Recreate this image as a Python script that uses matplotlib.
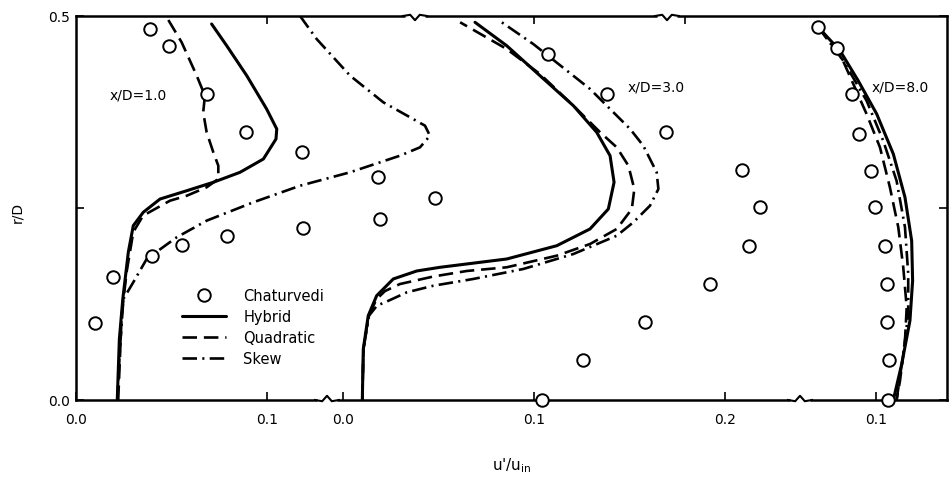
import matplotlib
matplotlib.use("Agg")
import matplotlib.pyplot as plt

plt.rcParams['font.family'] = ['DejaVu Sans']

# ---------------- data ----------------
# x/D = 1.0  (panel 1)
p1_exp_u = [0.0387, 0.0487, 0.0687, 0.089, 0.1185, 0.158, 0.188, 0.159, 0.119, 0.0792, 0.0553, 0.040, 0.0195, 0.0101]
p1_exp_r = [0.483, 0.461, 0.399, 0.349, 0.3225, 0.290, 0.2626, 0.2357, 0.2235, 0.213, 0.2018, 0.187, 0.160, 0.0999]
p1_hyb_u = [0.0216, 0.0227, 0.0245, 0.0274, 0.030, 0.0352, 0.044, 0.058, 0.0719, 0.0859, 0.0981, 0.1047, 0.1051, 0.0998, 0.0894, 0.0789, 0.0710]
p1_hyb_r = [0.0, 0.0794, 0.1315, 0.1927, 0.2270, 0.2444, 0.2617, 0.2725, 0.2835, 0.2965, 0.3138, 0.3398, 0.3529, 0.3789, 0.4223, 0.4613, 0.4896]
p1_quad_u = [0.0221, 0.0239, 0.0265, 0.030, 0.0351, 0.0492, 0.058, 0.0684, 0.0745, 0.0745, 0.0719, 0.0684, 0.0666, 0.0675, 0.0632, 0.0553, 0.0475]
p1_quad_r = [0.0, 0.1098, 0.1667, 0.2188, 0.240, 0.2595, 0.2660, 0.2770, 0.2878, 0.3051, 0.3225, 0.3486, 0.3746, 0.3962, 0.4223, 0.4658, 0.4983]
p1_skew_u = [0.0216, 0.023, 0.0248, 0.030, 0.037, 0.0527, 0.0684, 0.0928, 0.1173, 0.1435, 0.1696, 0.1801, 0.1853, 0.1827, 0.1749, 0.1609, 0.1435, 0.126, 0.1173]
p1_skew_r = [0.0, 0.0664, 0.1315, 0.1533, 0.1836, 0.2118, 0.2335, 0.2574, 0.279, 0.2965, 0.3181, 0.329, 0.3441, 0.3572, 0.3681, 0.3876, 0.4223, 0.470, 0.5]

# x/D = 3.0  (panel 2)
p2_exp_u = [0.1075, 0.1384, 0.169, 0.209, 0.2183, 0.2127, 0.1921, 0.1581, 0.1258, 0.104]
p2_exp_r = [0.4505, 0.3988, 0.349, 0.299, 0.2511, 0.2009, 0.151, 0.101, 0.052, 0.0]
p2_hyb_u = [0.0101, 0.0106, 0.0132, 0.0176, 0.0263, 0.0386, 0.0508, 0.0857, 0.1119, 0.1293, 0.1389, 0.1419, 0.1398, 0.1328, 0.1206, 0.1031, 0.0857, 0.0691]
p2_hyb_r = [0.0, 0.0664, 0.1098, 0.1358, 0.1576, 0.168, 0.1728, 0.1836, 0.2009, 0.2227, 0.2487, 0.2835, 0.3181, 0.3486, 0.3832, 0.4223, 0.4613, 0.4918]
p2_quad_u = [0.0101, 0.0107, 0.0134, 0.0176, 0.022, 0.0298, 0.0473, 0.0648, 0.0857, 0.1119, 0.1293, 0.1433, 0.1512, 0.1525, 0.1494, 0.1433, 0.1346, 0.1206, 0.1031, 0.0857, 0.0613]
p2_quad_r = [0.0, 0.0664, 0.1098, 0.1315, 0.1419, 0.151, 0.1608, 0.168, 0.1728, 0.1879, 0.2031, 0.2227, 0.2487, 0.2747, 0.3051, 0.329, 0.3486, 0.3832, 0.4245, 0.457, 0.4918]
p2_skew_u = [0.0101, 0.0107, 0.0136, 0.0178, 0.022, 0.0334, 0.0473, 0.0682, 0.0944, 0.1206, 0.1433, 0.152, 0.1607, 0.1651, 0.1642, 0.1572, 0.1503, 0.1293, 0.0996, 0.0831]
p2_skew_r = [0.0, 0.0664, 0.1098, 0.1230, 0.1272, 0.1402, 0.1488, 0.1576, 0.1706, 0.1901, 0.2139, 0.2314, 0.253, 0.2747, 0.2965, 0.3311, 0.3529, 0.405, 0.4635, 0.4918]

# x/D = 8.0  (panel 3)
p3_exp_u = [0.0698, 0.0797, 0.0876, 0.0913, 0.0972, 0.0995, 0.1047, 0.1056, 0.1059, 0.107, 0.1061]
p3_exp_r = [0.4853, 0.4579, 0.399, 0.347, 0.298, 0.2509, 0.2009, 0.151, 0.1012, 0.0524, 0.0]
p3_hyb_u = [0.0698, 0.0812, 0.0907, 0.1004, 0.1091, 0.1152, 0.1187, 0.1192, 0.1178, 0.1135, 0.1091]
p3_hyb_r = [0.4853, 0.4548, 0.4158, 0.3724, 0.3203, 0.2639, 0.2074, 0.1553, 0.1033, 0.0469, 0.0]
p3_quad_u = [0.0698, 0.0812, 0.0951, 0.1021, 0.1073, 0.1117, 0.1143, 0.1161, 0.1152, 0.1126, 0.1108]
p3_quad_r = [0.4853, 0.4505, 0.3724, 0.329, 0.277, 0.2249, 0.1728, 0.1207, 0.0772, 0.0251, 0.0]
p3_skew_u = [0.0698, 0.0829, 0.0951, 0.1038, 0.1108, 0.1152, 0.1169, 0.1169, 0.1143, 0.1108]
p3_skew_r = [0.4853, 0.4418, 0.3897, 0.3376, 0.2855, 0.2249, 0.1641, 0.112, 0.0599, 0.0]

panel_labels = ["x/D=1.0", "x/D=3.0", "x/D=8.0"]
panel_xlims = [(0.0, 0.456), (-0.1398, 0.3162), (-0.3188, 0.1372)]
panel_bottom_ticks = [[0.0, 0.1], [0.0, 0.1, 0.2], [0.1]]
panel_top_ticks = [[0.1], [0.1], [0.0]]
legend_labels = ["Chaturvedi", "Hybrid", "Quadratic", "Skew"]

# ---------------- figure ----------------
W, H = 950, 489
fig = plt.figure(figsize=(W / 100, H / 100), dpi=100)
L, R, T, B = 76, 947, 17, 401
rect = [L / W, 1 - B / H, (R - L) / W, (B - T) / H]

host = fig.add_axes(rect)
host.set_xlim(0, 1)
host.set_ylim(0, 0.5)
for s in host.spines.values():
    s.set_linewidth(1.8)
host.set_xticks([])
host.set_yticks([0.0, 0.25, 0.5])
host.set_yticklabels(["0.0", "", "0.5"], fontsize=10)
host.tick_params(axis='y', direction='in', length=6, width=1.2, right=True, pad=4)
host.set_ylabel("r/D", fontsize=10)
host.yaxis.set_label_coords(-52 / (R - L), 0.49)
host.set_xlabel("u'/u$_{\\mathrm{in}}$", fontsize=11, labelpad=40)

LW = 1.9
dash_q = (5.5, 2.6)
dash_s = (5.5, 2.0, 0.8, 2.0)

data = [
    (p1_exp_u, p1_exp_r, p1_hyb_u, p1_hyb_r, p1_quad_u, p1_quad_r, p1_skew_u, p1_skew_r),
    (p2_exp_u, p2_exp_r, p2_hyb_u, p2_hyb_r, p2_quad_u, p2_quad_r, p2_skew_u, p2_skew_r),
    (p3_exp_u, p3_exp_r, p3_hyb_u, p3_hyb_r, p3_quad_u, p3_quad_r, p3_skew_u, p3_skew_r),
]
label_pos = [(0.0178, 0.398), (0.149, 0.4076), (0.0979, 0.4076)]

handles = None
for i, d in enumerate(data):
    ax = fig.add_axes(rect, sharey=host)
    ax.patch.set_visible(False)
    for s in ax.spines.values():
        s.set_visible(False)
    ax.set_xlim(*panel_xlims[i])
    ax.yaxis.set_visible(False)
    ax.set_xticks(panel_bottom_ticks[i])
    ax.set_xticklabels([f"{v:.1f}" for v in panel_bottom_ticks[i]], fontsize=10)
    ax.tick_params(axis='x', direction='in', length=6, width=1.2, pad=9)
    sec = ax.secondary_xaxis('top')
    sec.set_xticks(panel_top_ticks[i])
    sec.set_xticklabels([])
    sec.tick_params(direction='in', length=6, width=1.2)
    sec.spines['top'].set_visible(False)

    eu, er, hu, hr, qu, qr, su, sr = d
    lh, = ax.plot(hu, hr, color='black', lw=LW + 0.3, solid_capstyle='round', zorder=3)
    lq, = ax.plot(qu, qr, color='black', lw=LW, dashes=dash_q, zorder=3)
    ls, = ax.plot(su, sr, color='black', lw=LW, dashes=dash_s, zorder=3)
    le, = ax.plot(eu, er, 'o', ms=9, mfc='white', mec='black', mew=1.4, ls='none',
                  zorder=5, clip_on=False)
    ax.text(label_pos[i][0], label_pos[i][1], panel_labels[i], fontsize=10, va='center', ha='left')
    if i == 0:
        handles = [le, lh, lq, ls]
        leg_ax = ax

leg = leg_ax.legend(handles, legend_labels, loc='upper left',
                    bbox_to_anchor=(182 / W, 1 - 289 / H), bbox_transform=fig.transFigure,
                    frameon=False, fontsize=10.5, handlelength=3.0, handletextpad=1.2,
                    labelspacing=0.42, borderpad=0, borderaxespad=0)

# axis break marks
def brk(xpx, top):
    xf = (xpx - L) / (R - L)
    dx = 4 / (R - L)
    dy = 6 / (B - T) * 0.5
    y0 = 0.5 if top else 0.0
    sgn = 1 if top else -1
    host.plot([xf - 2.5 * dx, xf + 2.5 * dx], [y0, y0], color='white', lw=3.5,
              clip_on=False, zorder=6, solid_capstyle='butt')
    host.plot([xf - 3 * dx, xf - 1.2 * dx, xf, xf + 1.2 * dx, xf + 3 * dx],
              [y0, y0 + sgn * dy * 0.2, y0 - sgn * dy * 0.7, y0 + sgn * dy * 0.2, y0],
              color='black', lw=1.5, clip_on=False, zorder=7)

host.set_xlim(0, 1)
brk(327, False)
brk(800, False)
brk(415, True)
brk(667, True)

fig.savefig("out.png", dpi=100)
